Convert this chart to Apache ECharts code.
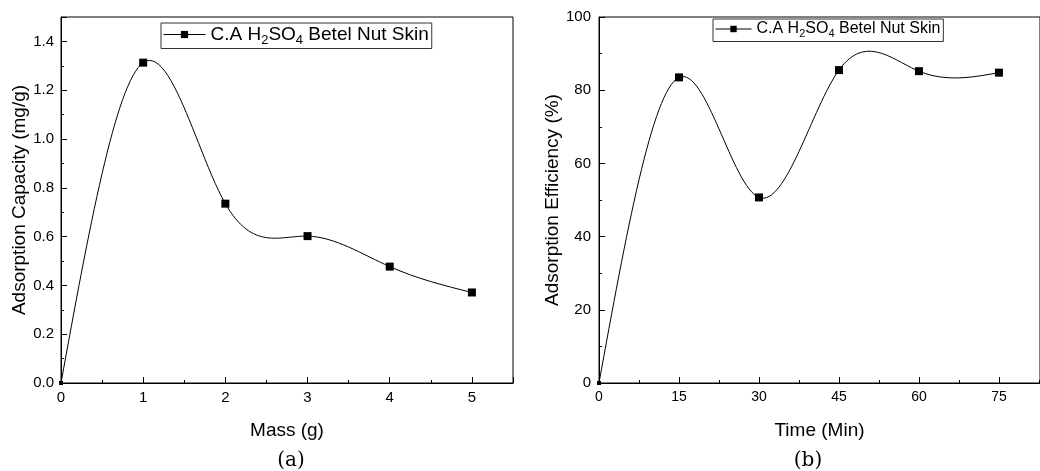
<!DOCTYPE html>
<html><head><meta charset="utf-8">
<script src="https://cdn.jsdelivr.net/npm/echarts@6/dist/echarts.min.js"></script>
<style>html,body{margin:0;padding:0;background:#fff}#c{width:1040px;height:471px}</style>
</head><body><div id="c"></div>
<script>
// Panel (a): adsorption capacity vs mass
const massX = [0, 1, 2, 3, 4, 5];
const capacityY = [0, 1.313, 0.735, 0.602, 0.477, 0.371];
// Panel (b): adsorption efficiency vs time
const timeX = [0, 15, 30, 45, 60, 75];
const efficiencyY = [0, 83.5, 50.7, 85.5, 85.2, 84.8];
const legendLabel = ['C.A H', '2', 'SO', '4', ' Betel Nut Skin'];
const panelLabels = ['(a)', '(b)'];
const axisNames = { ax: 'Mass (g)', ay: 'Adsorption Capacity (mg/g)', bx: 'Time (Min)', by: 'Adsorption Efficiency (%)' };

const FONT = 'Liberation Sans, Arial, sans-serif';
const chart = echarts.init(document.getElementById('c'), null, { renderer: 'canvas' });

function pairs(xs, ys) { return xs.map((x, i) => [x, ys[i]]); }

// natural cubic spline through pixel points, emitted as bezier segments
function splinePath(p) {
  const n = p.length, h = [], M = new Array(n).fill(0);
  for (let i = 0; i < n - 1; i++) h.push(p[i + 1][0] - p[i][0]);
  if (n > 2) {
    const a = [], b = [], c = [], d = [];
    for (let i = 1; i < n - 1; i++) {
      a.push(h[i - 1]); b.push(2 * (h[i - 1] + h[i])); c.push(h[i]);
      d.push(6 * ((p[i + 1][1] - p[i][1]) / h[i] - (p[i][1] - p[i - 1][1]) / h[i - 1]));
    }
    const m = b.length;
    for (let i = 1; i < m; i++) {
      const w = a[i] / b[i - 1];
      b[i] -= w * c[i - 1]; d[i] -= w * d[i - 1];
    }
    const s = new Array(m);
    s[m - 1] = d[m - 1] / b[m - 1];
    for (let i = m - 2; i >= 0; i--) s[i] = (d[i] - c[i] * s[i + 1]) / b[i];
    for (let i = 0; i < m; i++) M[i + 1] = s[i];
  }
  let path = `M${p[0][0]},${p[0][1]}`;
  for (let i = 0; i < n - 1; i++) {
    const hi = h[i], sl = (p[i + 1][1] - p[i][1]) / hi;
    const d0 = sl - hi * (2 * M[i] + M[i + 1]) / 6;
    const d1 = sl + hi * (M[i] + 2 * M[i + 1]) / 6;
    path += `C${p[i][0] + hi / 3},${p[i][1] + d0 * hi / 3},${p[i + 1][0] - hi / 3},${p[i + 1][1] - d1 * hi / 3},${p[i + 1][0]},${p[i + 1][1]}`;
  }
  return path;
}

function legendRich(fs, sfs) {
  return {
    n: { fontSize: fs, fontFamily: FONT, color: '#000', lineHeight: fs + 5 },
    s: { fontSize: sfs, fontFamily: FONT, color: '#000', lineHeight: sfs + 2, verticalAlign: 'bottom' }
  };
}
const legendFmt = () => `{n|${legendLabel[0]}}{s|${legendLabel[1]}}{n|${legendLabel[2]}}{s|${legendLabel[3]}}{n|${legendLabel[4]}}`;

function xAxis(gi, name, max, interval, gap, fs) {
  return {
    gridIndex: gi, type: 'value', min: 0, max: max, interval: interval,
    name: name, nameLocation: 'middle', nameGap: gap,
    nameTextStyle: { fontFamily: FONT, fontSize: 19, color: '#000' },
    axisLine: { lineStyle: { color: '#000', width: 1 } },
    axisTick: { inside: true, length: 6, lineStyle: { color: '#000' } },
    minorTick: { show: true, splitNumber: 2, length: 3, lineStyle: { color: '#000' } },
    axisLabel: { fontFamily: FONT, fontSize: fs, color: '#000', margin: 7, showMaxLabel: false },
    splitLine: { show: false }
  };
}
function yAxis(gi, name, max, interval, gap, fs, margin, showMax, fmt) {
  return {
    gridIndex: gi, type: 'value', min: 0, max: max, interval: interval,
    name: name, nameLocation: 'middle', nameGap: gap,
    nameTextStyle: { fontFamily: FONT, fontSize: 19, color: '#000' },
    axisLine: { show: true, lineStyle: { color: '#000', width: 1 } },
    axisTick: { show: true, inside: true, length: 6, lineStyle: { color: '#000' } },
    minorTick: { show: true, splitNumber: 2, length: 3, lineStyle: { color: '#000' } },
    axisLabel: { fontFamily: FONT, fontSize: fs, color: '#000', margin: margin, showMaxLabel: showMax, formatter: fmt },
    splitLine: { show: false }
  };
}
function markers(name, xi, yi, data) {
  return {
    name: name, type: 'line', xAxisIndex: xi, yAxisIndex: yi, data: data,
    symbol: 'rect', showSymbol: true,
    symbolSize: (v, p) => (p.dataIndex === 0 ? 4 : 8),
    lineStyle: { color: '#000', width: 1, opacity: 0 },
    itemStyle: { color: '#000' },
    clip: false, animation: false, z: 3
  };
}
function curve(xi, yi, xs, ys) {
  return {
    type: 'custom', xAxisIndex: xi, yAxisIndex: yi, data: [[xs[0], ys[0]]],
    silent: true, clip: false, z: 2,
    renderItem: (params, api) => {
      const pts = xs.map((x, i) => api.coord([x, ys[i]]));
      return { type: 'path', shape: { pathData: splinePath(pts) },
        style: { stroke: '#000', fill: 'none', lineWidth: 1 } };
    }
  };
}

const legendLine = { color: '#000', width: 1, opacity: 1 };

chart.setOption({
  animation: false,
  title: [
    { text: panelLabels[0], left: 286, top: 446, textAlign: 'center',
      textStyle: { fontFamily: 'DejaVu Serif, serif', fontSize: 20, fontWeight: 'normal', color: '#000' } },
    { text: panelLabels[1], left: 803, top: 446, textAlign: 'center',
      textStyle: { fontFamily: 'DejaVu Serif, serif', fontSize: 20, fontWeight: 'normal', color: '#000' } }
  ],
  grid: [
    { left: 61, top: 17, width: 452, height: 366, show: true, borderColor: '#000', borderWidth: 1, backgroundColor: 'transparent' },
    { left: 599, top: 17, width: 441, height: 366, show: true, borderColor: '#000', borderWidth: 1, backgroundColor: 'transparent' }
  ],
  legend: [
    { data: ['a'], left: 161, top: 23, orient: 'horizontal', itemWidth: 42, itemHeight: 9, itemGap: 4,
      padding: [2, 3, 2, 2], borderColor: '#333', borderWidth: 1, formatter: legendFmt,
      lineStyle: legendLine, textStyle: { rich: legendRich(19, 13) } },
    { data: ['b'], left: 713, top: 19, orient: 'horizontal', itemWidth: 36, itemHeight: 8, itemGap: 4,
      padding: [2, 3, 2, 2], borderColor: '#333', borderWidth: 1, formatter: legendFmt,
      lineStyle: legendLine, textStyle: { rich: legendRich(16, 11) } }
  ],
  xAxis: [ xAxis(0, axisNames.ax, 5.5, 1, 38, 15), xAxis(1, axisNames.bx, 82.7, 15, 38, 14) ],
  yAxis: [
    yAxis(0, axisNames.ay, 1.5, 0.2, 30, 15, 7, false, v => v.toFixed(1)),
    yAxis(1, axisNames.by, 100, 20, 37, 15, 8, true, v => String(v))
  ],
  series: [
    curve(0, 0, massX, capacityY),
    markers('a', 0, 0, pairs(massX, capacityY)),
    curve(1, 1, timeX, efficiencyY),
    markers('b', 1, 1, pairs(timeX, efficiencyY))
  ]
});
</script></body></html>
